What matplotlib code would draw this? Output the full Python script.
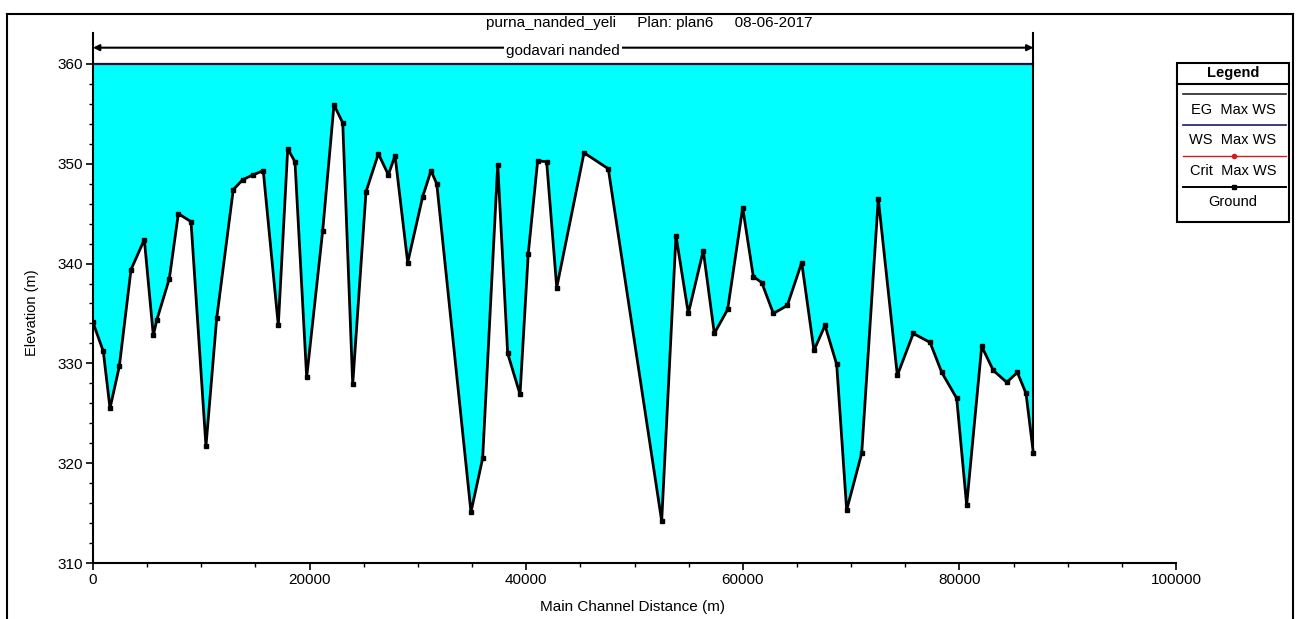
import matplotlib
matplotlib.use("Agg")
import matplotlib.pyplot as plt
from matplotlib.lines import Line2D
from matplotlib.patches import Rectangle

FONT = ['Liberation Sans Narrow', 'Liberation Sans', 'DejaVu Sans']
plt.rcParams['font.family'] = FONT

# ---------------- data ----------------
distance = [0, 950, 1570, 2430, 3510, 4740, 5570, 5880, 7050, 7880, 9050,
            10430, 11420, 12950, 13820, 14800, 15720, 17110, 17980, 18650,
            19730, 21210, 22250, 23060, 23980, 25210, 26350, 27270, 27890,
            29060, 30440, 31210, 31740, 34900, 35980, 37370, 38290, 39430,
            40190, 41060, 41890, 42820, 45340, 47580, 52510, 53830, 54970,
            56350, 57370, 58600, 59990, 60970, 61750, 62820, 64110, 65440,
            66570, 67590, 68670, 69590, 70980, 72510, 74270, 75740, 77290,
            78370, 79750, 80670, 82060, 83130, 84370, 85350, 86150, 86830]
ground = [334.1, 331.2, 325.5, 329.7, 339.4, 342.4, 332.8, 334.3, 338.5,
          345.0, 344.2, 321.7, 334.5, 347.4, 348.4, 348.9, 349.3, 333.8,
          351.5, 350.2, 328.6, 343.3, 355.9, 354.1, 327.9, 347.2, 351.0,
          348.9, 350.8, 340.1, 346.7, 349.3, 348.0, 315.1, 320.5, 349.9,
          331.0, 326.9, 341.0, 350.3, 350.2, 337.6, 351.1, 349.5, 314.2,
          342.8, 335.0, 341.3, 333.0, 335.4, 345.6, 338.7, 338.1, 335.0,
          335.8, 340.1, 331.3, 333.8, 329.9, 315.3, 321.0, 346.5, 328.8,
          333.0, 332.1, 329.1, 326.5, 315.8, 331.7, 329.3, 328.1, 329.1,
          327.0, 321.0]
ws_elev = 360.0
eg_elev = 360.0
reach_name = "godavari nanded"
title_text = "purna_nanded_yeli     Plan: plan6     08-06-2017"
legend_labels = ["EG  Max WS", "WS  Max WS", "Crit  Max WS", "Ground"]
x_ticks = [0, 20000, 40000, 60000, 80000, 100000]
y_ticks = [310, 320, 330, 340, 350, 360]

# ---------------- figure ----------------
W, H = 1300, 619
fig = plt.figure(figsize=(W / 100, H / 100), dpi=100)
fig.patch.set_facecolor('white')

def fx(px):
    return px / W

def fy(py):
    return 1 - py / H

FS = 11
ax = fig.add_axes([fx(93), fy(563), fx(1176) - fx(93), fy(33) - fy(563)])
ax.set_xlim(0, 100000)
ax.set_ylim(310, 363.1)

x0, x1 = distance[0], distance[-1]

# water fill
ax.fill_between(distance, ground, ws_elev, color='#00FFFF', lw=0, zorder=1)
# EG and WS lines
ax.plot([x0, x1], [eg_elev, eg_elev], color='#1a1a1a', lw=1.6, zorder=3)
ax.plot([x0, x1], [ws_elev, ws_elev], color='#101040', lw=1.2, zorder=3)
# ground
ax.plot(distance, ground, color='black', lw=2.0, marker='s', ms=3.2,
        mfc='black', mec='black', zorder=4)

# reach end line
ax.plot([x1, x1], [ground[-1], 363.1], color='black', lw=1.5, zorder=4,
        clip_on=False)
# reach arrow
ya = 361.63
ax.annotate('', xy=(x0, ya), xytext=(x1, ya),
            arrowprops=dict(arrowstyle='<|-|>', color='black', lw=1.5,
                            mutation_scale=9, shrinkA=0, shrinkB=0),
            zorder=5)
ax.text((x0 + x1) / 2, 361.3, reach_name, ha='center', va='center',
        fontsize=FS, zorder=6,
        bbox=dict(facecolor='white', edgecolor='none', pad=1.5))

# title
fig.text(fx(649), fy(23), title_text, ha='center', va='center', fontsize=FS)

# spines and ticks
for s in ['top', 'right']:
    ax.spines[s].set_visible(False)
ax.spines['left'].set_linewidth(1.5)
ax.spines['bottom'].set_linewidth(1.5)
ax.set_xticks(x_ticks)
ax.set_xticklabels([str(v) for v in x_ticks])
ax.set_yticks(y_ticks)
ax.set_yticklabels([str(v) for v in y_ticks])
ax.set_xticks(range(0, 100001, 5000), minor=True)
ax.set_yticks(range(310, 361, 2), minor=True)
ax.tick_params(axis='both', which='major', direction='out', length=5,
               width=1.2, labelsize=FS, pad=2)
ax.tick_params(axis='both', which='minor', direction='out', length=3,
               width=1.0)
ax.set_xlabel("Main Channel Distance (m)", fontsize=FS)
ax.set_ylabel("Elevation (m)", fontsize=10.5)
ax.yaxis.set_label_coords((fx(32) - fx(93)) / (fx(1176) - fx(93)),
                          (fy(313) - fy(563)) / (fy(33) - fy(563)))
ax.xaxis.set_label_coords((fx(633) - fx(93)) / (fx(1176) - fx(93)),
                          (fy(607) - fy(563)) / (fy(33) - fy(563)))
ax.xaxis.label.set_va('center')
ax.yaxis.label.set_va('center')

# ---------------- legend box ----------------
lx0, lx1 = 1177, 1289
ly0, ly1 = 63, 222
fig.add_artist(Rectangle((fx(lx0), fy(ly1)), fx(lx1) - fx(lx0), fy(ly0) - fy(ly1),
                         transform=fig.transFigure, fill=False,
                         edgecolor='black', lw=1.5))
fig.add_artist(Line2D([fx(lx0), fx(lx1)], [fy(84), fy(84)], color='black', lw=1.5))
fig.text(fx((lx0 + lx1) / 2), fy(73), "Legend", ha='center', va='center',
         fontsize=10.5, fontweight='bold')
line_y = [94, 125, 156, 187]
text_y = [110, 140, 171, 202]
line_styles = [dict(color='#222222', lw=1.2, marker=None),
               dict(color='#1a1a6a', lw=1.2, marker=None),
               dict(color='#cc2020', lw=1.0, marker='o'),
               dict(color='black', lw=1.4, marker='s')]
for lyv, tyv, lab, st in zip(line_y, text_y, legend_labels, line_styles):
    fig.add_artist(Line2D([fx(1183), fx(1286)], [fy(lyv), fy(lyv)],
                          color=st['color'], lw=st['lw']))
    if st['marker']:
        fig.add_artist(Line2D([fx(1234)], [fy(lyv)], color=st['color'],
                              marker=st['marker'], ms=3, lw=0))
    fig.text(fx(1233), fy(tyv), lab, ha='center', va='center', fontsize=10.5)

# outer frame
fig.add_artist(Line2D([fx(7), fx(7)], [0, fy(14)], color='black', lw=1.5))
fig.add_artist(Line2D([fx(1293), fx(1293)], [0, fy(14)], color='black', lw=1.5))
fig.add_artist(Line2D([fx(7), fx(1293)], [fy(14), fy(14)], color='black', lw=1.5))

fig.savefig("out.png", dpi=100)
